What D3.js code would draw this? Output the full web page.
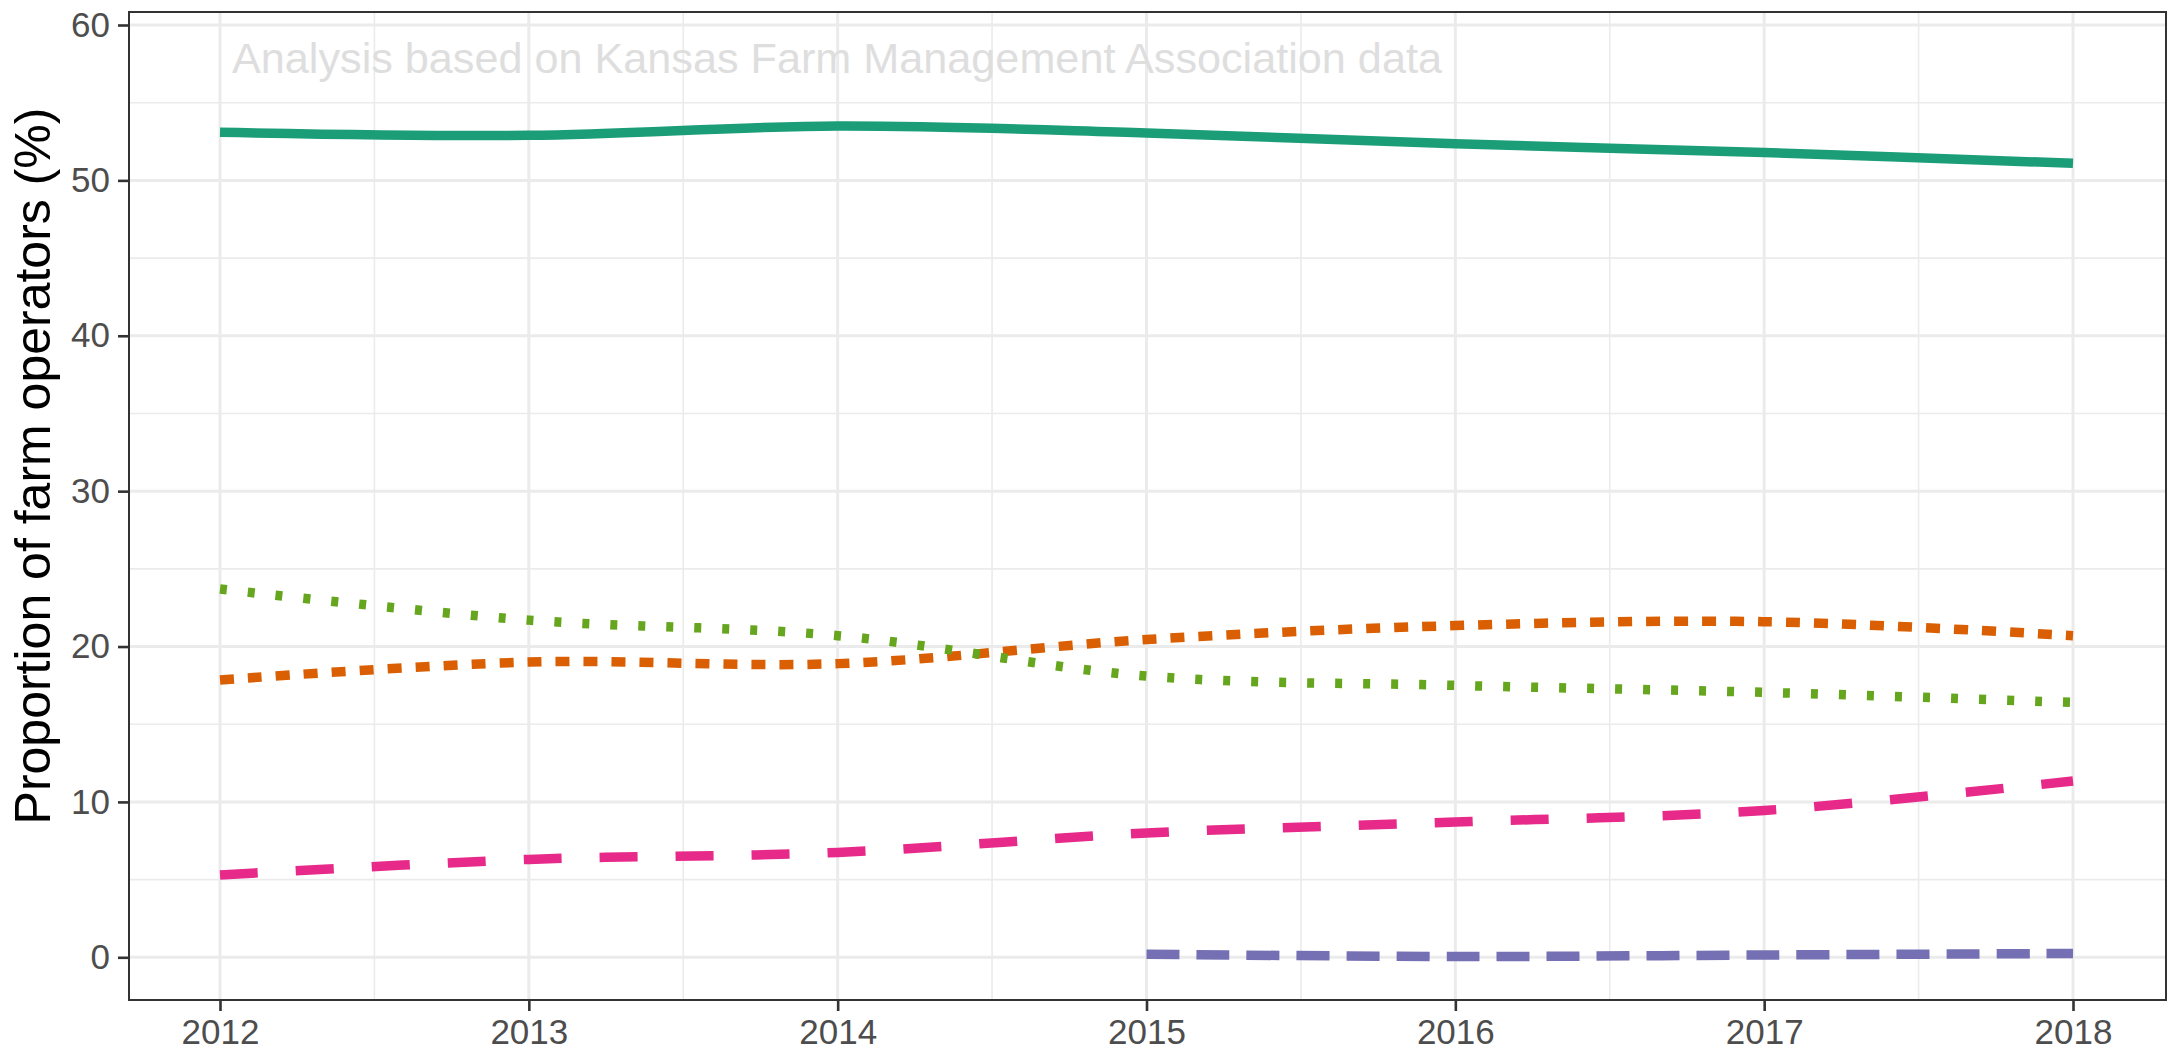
<!DOCTYPE html>
<html>
<head>
<meta charset="utf-8">
<script src="https://cdn.jsdelivr.net/npm/d3@7"></script>
<style>
  html, body { margin: 0; padding: 0; background: #ffffff; }
  svg { display: block; }
</style>
</head>
<body>
<svg id="chart" width="2179" height="1056"></svg>
<script>
// ---- data ----
const years = [2012, 2013, 2014, 2015, 2016, 2017, 2018];
const seriesSolid   = [53.1, 52.9, 53.5, 53.05, 52.35, 51.8, 51.1];
const seriesDotted  = [23.7, 21.7, 20.7, 18.1, 17.5, 17.05, 16.4];
const seriesDashed  = [17.85, 19.0, 18.9, 20.45, 21.35, 21.6, 20.7];
const seriesLong    = [5.3, 6.3, 6.75, 8.0, 8.7, 9.45, 11.35];
const seriesTwo     = [null, null, null, 0.2, 0.05, 0.15, 0.25];
const yTicks = [0, 10, 20, 30, 40, 50, 60];
const yMinor = [5, 15, 25, 35, 45, 55];
const xMinor = [2012.5, 2013.5, 2014.5, 2015.5, 2016.5, 2017.5];
const annotationText = "Analysis based on Kansas Farm Management Association data";
const yTitle = "Proportion of farm operators (%)";

const series = [
  { values: seriesTwo,    color: "#7570B3", dash: "33,17" },
  { values: seriesLong,   color: "#E7298A", dash: "38,38" },
  { values: seriesDashed, color: "#D95F02", dash: "14,14" },
  { values: seriesDotted, color: "#66A61E", dash: "7,21" },
  { values: seriesSolid,  color: "#1B9E77", dash: null }
];

// ---- layout ----
const panel = { left: 129, right: 2166, top: 12, bottom: 1000 };
const svg = d3.select("#chart");

const pxPerYear = (2073 - 220) / 6;
const x = d3.scaleLinear()
  .domain([2012 - (220 - panel.left) / pxPerYear, 2018 + (panel.right - 2073) / pxPerYear])
  .range([panel.left, panel.right]);
const pxPerUnit = (957.3 - 25) / 60;
const y = d3.scaleLinear()
  .domain([-(panel.bottom - 957.3) / pxPerUnit, 60 + (25 - panel.top) / pxPerUnit])
  .range([panel.bottom, panel.top]);

const g = svg.append("g");

g.append("rect")
  .attr("x", panel.left).attr("y", panel.top)
  .attr("width", panel.right - panel.left).attr("height", panel.bottom - panel.top)
  .attr("fill", "#ffffff");

// minor grid
g.selectAll(".ygm").data(yMinor).enter().append("line")
  .attr("x1", panel.left).attr("x2", panel.right)
  .attr("y1", d => y(d)).attr("y2", d => y(d))
  .attr("stroke", "#ebebeb").attr("stroke-width", 1.6);
g.selectAll(".xgm").data(xMinor).enter().append("line")
  .attr("y1", panel.top).attr("y2", panel.bottom)
  .attr("x1", d => x(d)).attr("x2", d => x(d))
  .attr("stroke", "#ebebeb").attr("stroke-width", 1.6);
// major grid
g.selectAll(".yg").data(yTicks).enter().append("line")
  .attr("x1", panel.left).attr("x2", panel.right)
  .attr("y1", d => y(d)).attr("y2", d => y(d))
  .attr("stroke", "#ebebeb").attr("stroke-width", 3);
g.selectAll(".xg").data(years).enter().append("line")
  .attr("y1", panel.top).attr("y2", panel.bottom)
  .attr("x1", d => x(d)).attr("x2", d => x(d))
  .attr("stroke", "#ebebeb").attr("stroke-width", 3);

// annotation
g.append("text")
  .attr("x", 232).attr("y", 73)
  .attr("font-family", "'Liberation Sans', Arial, sans-serif")
  .attr("font-size", 43.2)
  .attr("fill", "#dedede")
  .text(annotationText);

// lines
const line = d3.line()
  .defined(d => d.v !== null)
  .x(d => x(d.year))
  .y(d => y(d.v))
  .curve(d3.curveCatmullRom.alpha(0.5));

series.forEach(s => {
  const pts = years.map((yr, i) => ({ year: yr, v: s.values[i] })).filter(d => d.v !== null);
  g.append("path")
    .datum(pts)
    .attr("d", line)
    .attr("fill", "none")
    .attr("stroke", s.color)
    .attr("stroke-width", 9.5)
    .attr("stroke-linecap", "butt")
    .attr("stroke-linejoin", "round")
    .attr("stroke-dasharray", s.dash);
});

// panel border
g.append("rect")
  .attr("x", panel.left).attr("y", panel.top)
  .attr("width", panel.right - panel.left).attr("height", panel.bottom - panel.top)
  .attr("fill", "none").attr("stroke", "#333333").attr("stroke-width", 2);

// axes
const yAxis = d3.axisLeft(y).tickValues(yTicks).tickSize(11).tickPadding(8);
const yg = svg.append("g").attr("transform", `translate(${panel.left},0)`).call(yAxis);
yg.select(".domain").remove();
yg.selectAll(".tick line").attr("stroke", "#333333").attr("stroke-width", 2.6);
yg.selectAll(".tick text")
  .attr("font-family", "'Liberation Sans', Arial, sans-serif")
  .attr("font-size", 35).attr("fill", "#4d4d4d");

const xAxis = d3.axisBottom(x).tickValues(years).tickFormat(d3.format("d")).tickSize(11).tickPadding(8);
const xg = svg.append("g").attr("transform", `translate(0,${panel.bottom})`).call(xAxis);
xg.select(".domain").remove();
xg.selectAll(".tick line").attr("stroke", "#333333").attr("stroke-width", 2.6);
xg.selectAll(".tick text")
  .attr("font-family", "'Liberation Sans', Arial, sans-serif")
  .attr("font-size", 35).attr("fill", "#4d4d4d");

// y title
svg.append("text")
  .attr("transform", `translate(50,466) rotate(-90)`)
  .attr("text-anchor", "middle")
  .attr("font-family", "'Liberation Sans', Arial, sans-serif")
  .attr("font-size", 50)
  .attr("fill", "#000000")
  .text(yTitle);
</script>
</body>
</html>
